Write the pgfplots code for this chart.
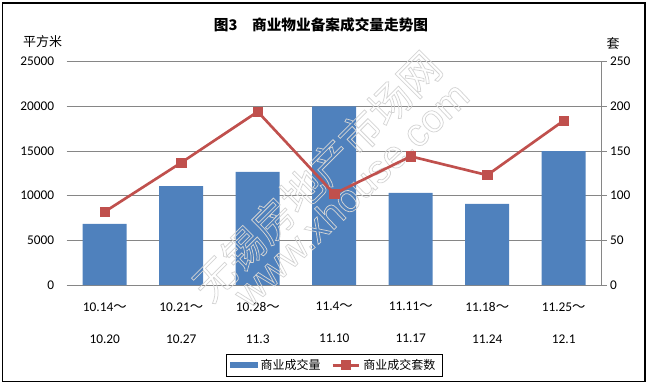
\documentclass[border=0pt]{standalone}
\usepackage{fontspec}
\setmainfont{Carlito}
\newfontfamily\cjk{Noto Sans CJK SC}
\newfontfamily\arialf{Liberation Sans}
\usepackage{pgfplots}
\pgfplotsset{compat=1.18}
\definecolor{barblue}{HTML}{4F81BD}
\definecolor{linered}{HTML}{C0504D}
\definecolor{gridgray}{HTML}{868686}
\newcommand{\outl}[1]{\special{pdf:literal direct 1 Tr 0.55 w 0.83 0.83 0.83 RG}#1\special{pdf:literal direct 0 Tr}}
\begin{document}
\begin{tikzpicture}
\path[use as bounding box] (0,0) rectangle (486.75pt,289.5pt);
\draw[black, line width=0.9pt] (2.0pt,3.2pt) rectangle (483.75pt,287.25pt);
\begin{axis}[
  at={(49.875pt,75.75pt)}, anchor=south west,
  scale only axis, width=401.6pt, height=167.5pt,
  xmin=-0.5, xmax=6.5, ymin=0, ymax=25000,
  ytick={0,5000,10000,15000,20000,25000},
  xtick={0,1,2,3,4,5,6},
  xticklabels={{10.14{\cjk ～}\\[12pt]10.20},{10.21{\cjk ～}\\[12pt]10.27},{10.28{\cjk ～}\\[12pt]11.3},{11.4{\cjk ～}\\[12pt]11.10},{11.11{\cjk ～}\\[12pt]11.17},{11.18{\cjk ～}\\[12pt]11.24},{11.25{\cjk ～}\\[12pt]12.1}},
  xticklabel style={align=center, font=\fontsize{10pt}{12pt}\selectfont, anchor=north, yshift=-9.5pt},
  yticklabel style={font=\fontsize{10pt}{12pt}\selectfont, anchor=east, xshift=-5.7pt},
  ymajorgrids, grid style={gridgray, line width=0.75pt},
  axis line style={draw=none},
  major tick length=0pt,
  scaled y ticks=false,
  /pgf/number format/1000 sep={},
  /pgf/number format/assume math mode=true,
]
\addplot[ybar, bar width=33pt, fill=barblue, draw=none] coordinates {(0,6830)(1,11080)(2,12650)(3,20000)(4,10300)(5,9070)(6,15000)};
\end{axis}
\node[rotate=45, font=\cjk\fontsize{31pt}{33pt}\selectfont] at (237.4pt,157.5pt) {\outl{无锡房地产市场网}};
\node[rotate=43.5, font=\arialf\fontsize{29.5pt}{31pt}\selectfont] at (263.25pt,144pt) {\outl{www.xhouse.com}};
\begin{axis}[
  at={(49.875pt,75.75pt)}, anchor=south west,
  scale only axis, width=401.6pt, height=167.5pt,
  xmin=-0.5, xmax=6.5, ymin=0, ymax=250,
  axis x line=none, axis y line*=right,
  ytick pos=right, yticklabel pos=right,
  axis line style={-, gridgray, line width=0.75pt},
  ytick={0,50,100,150,200,250},
  tick style={gridgray, line width=0.75pt},
  tick align=outside, major tick length=3.5pt,
  yticklabel style={font=\fontsize{10pt}{12pt}\selectfont, anchor=west, xshift=-1pt},
  /pgf/number format/assume math mode=true,
  legend style={at={(0.5,-0.36)}, anchor=center, legend columns=2, draw=black, line width=0.75pt,
    font=\cjk\fontsize{9pt}{11pt}\selectfont, inner xsep=3pt, inner ysep=1.5pt,
    /tikz/every even column/.append style={column sep=6pt}},
]
\addlegendimage{legend image code/.code={\fill[barblue] (0pt,-1.9pt) rectangle (20pt,1.9pt);}}
\addlegendentry{商业成交量}
\addplot[linered, line width=2pt, mark=square*, mark size=3.5pt, mark options={solid, fill=linered, draw=linered, line width=0.5pt},
  legend image code/.code={\draw[linered, line width=2pt] (0pt,0pt)--(20pt,0pt); \fill[linered] (7pt,-2.7pt) rectangle (13pt,2.7pt);}]
  coordinates {(0,82)(1,137)(2,194)(3,102)(4,144)(5,123)(6,184)};
\addlegendentry{商业成交套数}
\end{axis}
\node[font=\cjk\bfseries\fontsize{11pt}{13pt}\selectfont] at (240.75pt,270.75pt) {图3　商业物业备案成交量走势图};
\node[font=\cjk\fontsize{9.75pt}{12pt}\selectfont] at (31.9pt,258.2pt) {平方米};
\node[font=\cjk\fontsize{9.75pt}{12pt}\selectfont] at (459.75pt,256.5pt) {套};
\end{tikzpicture}
\end{document}
